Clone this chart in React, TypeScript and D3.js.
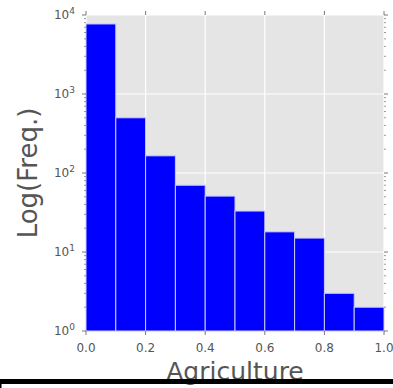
import React from "react";
import * as d3 from "d3";

// histogram bins (left edges) and counts
const binEdges = [0, 0.1, 0.2, 0.3, 0.4, 0.5, 0.6, 0.7, 0.8, 0.9, 1.0];
const counts = [7700, 500, 165, 70, 51, 33, 18, 15, 3, 2];
const xTicks = [0, 0.2, 0.4, 0.6, 0.8, 1.0];
const yDecades = [1, 10, 100, 1000, 10000];

const W = 393;
const H = 388;
const left = 86;
const right = 384;
const top = 15;
const bottom = 331;
const gray = "#555555";
const font = "DejaVu Sans, sans-serif";

const App = () => {
  const x = d3.scaleLinear().domain([0, 1]).range([left, right]);
  const y = d3.scaleLog().domain([1, 10000]).range([bottom, top]);

  // minor ticks 2..9 in every decade
  const minor: number[] = [];
  yDecades.slice(0, -1).forEach((d) => {
    for (let k = 2; k < 10; k++) minor.push(d * k);
  });

  const bars = counts.map((c, i) => (
    <rect
      key={i}
      x={x(binEdges[i])}
      y={y(c)}
      width={x(binEdges[i + 1]) - x(binEdges[i])}
      height={bottom - y(c)}
      fill="#0000ff"
      stroke="#c8c8ff"
      strokeWidth={1}
    />
  ));

  return (
    <svg
      width={W}
      height={H}
      viewBox={`0 0 ${W} ${H}`}
      style={{ position: "absolute", left: 0, top: 0, background: "#fff" }}
    >
      <rect x={left} y={top} width={right - left} height={bottom - top} fill="#e5e5e5" />

      {/* grid */}
      {xTicks.map((t) => (
        <line key={"gx" + t} x1={x(t)} x2={x(t)} y1={top} y2={bottom} stroke="#fff" strokeWidth={1.2} />
      ))}
      {yDecades.map((t) => (
        <line key={"gy" + t} x1={left} x2={right} y1={y(t)} y2={y(t)} stroke="#fff" strokeWidth={1.2} />
      ))}

      {bars}

      {/* x ticks, bottom and top */}
      {xTicks.map((t) => (
        <g key={"xt" + t}>
          <line x1={x(t)} x2={x(t)} y1={bottom} y2={bottom + 4} stroke={gray} strokeWidth={0.8} />
          <line x1={x(t)} x2={x(t)} y1={top} y2={top - 4} stroke={gray} strokeWidth={0.8} />
          <text x={x(t)} y={352} fontSize={12} fill={gray} textAnchor="middle" fontFamily={font}>
            {t.toFixed(1)}
          </text>
        </g>
      ))}

      {/* y ticks, left and right */}
      {yDecades.map((t, i) => (
        <g key={"yt" + t}>
          <line x1={left} x2={left - 4} y1={y(t)} y2={y(t)} stroke={gray} strokeWidth={0.8} />
          <line x1={right} x2={right + 4} y1={y(t)} y2={y(t)} stroke={gray} strokeWidth={0.8} />
          <text x={75} y={y(t) + 4} fontSize={12} fill={gray} textAnchor="end" fontFamily={font}>
            10
            <tspan dy={-5} fontSize={9}>
              {i}
            </tspan>
          </text>
        </g>
      ))}
      {minor.map((t) => (
        <g key={"ym" + t}>
          <line x1={left} x2={left - 2} y1={y(t)} y2={y(t)} stroke={gray} strokeWidth={0.6} />
          <line x1={right} x2={right + 2} y1={y(t)} y2={y(t)} stroke={gray} strokeWidth={0.6} />
        </g>
      ))}

      {/* axis labels */}
      <text
        transform={`translate(37,${(top + bottom) / 2}) rotate(-90)`}
        fontSize={26}
        fill={gray}
        textAnchor="middle"
        fontFamily={font}
      >
        Log(Freq.)
      </text>
      <text x={(left + right) / 2} y={380} fontSize={25} fill={gray} textAnchor="middle" fontFamily={font}>
        Agriculture
      </text>

      {/* black frame edge at the bottom */}
      <rect x={0} y={379} width={W} height={5} fill="#000" />
      <rect x={0} y={384} width={1.5} height={4} fill="#000" />
    </svg>
  );
};

export default App;
